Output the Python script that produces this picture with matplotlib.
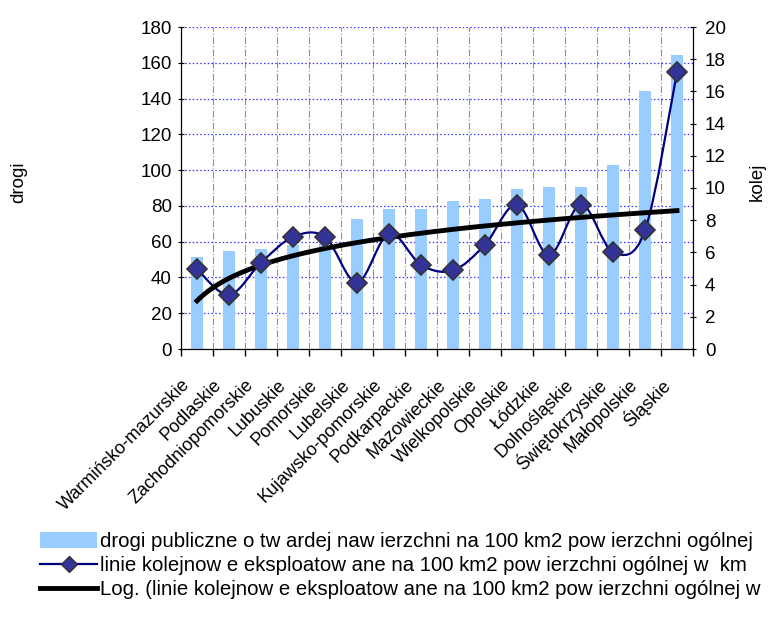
import numpy as np
import matplotlib
matplotlib.use('Agg')
import matplotlib.pyplot as plt
from matplotlib.path import Path
from matplotlib.patches import PathPatch, Patch
from matplotlib.lines import Line2D
from matplotlib.transforms import ScaledTranslation

plt.rcParams['font.family'] = ['Liberation Sans', 'DejaVu Sans']

# dane
wojewodztwa = ['Warmińsko-mazurskie', 'Podlaskie', 'Zachodniopomorskie', 'Lubuskie',
               'Pomorskie', 'Lubelskie', 'Kujawsko-pomorskie', 'Podkarpackie',
               'Mazowieckie', 'Wielkopolskie', 'Opolskie', 'Łódzkie',
               'Dolnośląskie', 'Świętokrzyskie', 'Małopolskie', 'Śląskie']
drogi = [51.2, 54.6, 55.9, 57.9, 61.0, 72.5, 78.1, 78.1,
         82.6, 83.7, 89.3, 90.5, 90.5, 102.8, 144.3, 164.5]
kolej = [4.96, 3.36, 5.36, 6.96, 6.96, 4.13, 7.17, 5.23,
         4.88, 6.48, 8.97, 5.84, 8.97, 6.02, 7.37, 17.18]

lab_drogi = 'drogi publiczne o tw ardej naw ierzchni na 100 km2 pow ierzchni ogólnej'
lab_kolej = 'linie kolejnow e eksploatow ane na 100 km2 pow ierzchni ogólnej w  km'
lab_log = 'Log. (linie kolejnow e eksploatow ane na 100 km2 pow ierzchni ogólnej w  km)'

fig = plt.figure(figsize=(7.68, 6.28), dpi=100)
ax = fig.add_axes([181/768, 1-349/628, 512/768, 322/628])

x = np.arange(len(wojewodztwa))
ax.bar(x, drogi, width=0.4, color='#99CCFF', zorder=2)
ax.set_xlim(-0.5, len(x) - 0.5)
ax.set_ylim(0, 180)
ax.set_yticks(range(0, 181, 20))
ax.yaxis.grid(True, color='#3333FF', linestyle=(0, (1.2, 1.8)), linewidth=0.9)

# granice kategorii
ax.set_xticks(np.arange(len(x) + 1) - 0.5)
ax.set_xticklabels([])
ax.xaxis.grid(True, color='#909090', linestyle=(0, (6, 2, 1, 2)), linewidth=0.8)
ax.set_xticks(x, wojewodztwa, minor=True, rotation=45, ha='right', va='center',
              rotation_mode='anchor', fontsize=13)
ax.tick_params(axis='x', which='minor', length=0, pad=24)
ax.tick_params(axis='x', which='major', length=5, direction='out', width=1)
for lbl in ax.get_xticklabels(minor=True):
    lbl.set_transform(lbl.get_transform() + ScaledTranslation(-10/100, 0, fig.dpi_scale_trans))
ax.tick_params(axis='y', direction='inout', length=5, labelsize=13.5, pad=4)
ax.set_axisbelow(True)
ax.spines['top'].set_visible(False)

ax2 = ax.twinx()
ax2.set_ylim(0, 20)
ax2.set_yticks(range(0, 21, 2))
ax2.tick_params(axis='y', direction='inout', length=5, labelsize=13.5, pad=6)
ax2.spines['top'].set_visible(False)

# wygladzona linia (Bezier)
pts = np.column_stack([x, kolej]).astype(float)
verts = [pts[0]]
codes = [Path.MOVETO]
n = len(pts)
for i in range(n - 1):
    p0 = pts[i - 1] if i > 0 else pts[i]
    p3 = pts[i + 2] if i + 2 < n else pts[i + 1]
    verts += [pts[i] + (pts[i + 1] - p0) / 6, pts[i + 1] - (p3 - pts[i]) / 6, pts[i + 1]]
    codes += [Path.CURVE4] * 3
ax2.add_patch(PathPatch(Path(verts, codes), fill=False, edgecolor='#000080', lw=1.6, zorder=3))

# trend logarytmiczny
coef = np.polyfit(np.log(x + 1), kolej, 1)
xs = np.linspace(1, len(x), 200)
ax2.plot(xs - 1, np.polyval(coef, np.log(xs)), color='black', lw=3.5, zorder=4)

ax2.plot(x, kolej, linestyle='none', marker='D', ms=10, mfc='#333399', mec='#333333',
         mew=1.2, zorder=5)

fig.text(19/768, 1-182/628, 'drogi', rotation=90, ha='center', va='center', fontsize=13.5)
fig.text(757/768, 1-182/628, 'kolej', rotation=90, ha='center', va='center', fontsize=13.5)

handles = [Patch(facecolor='#99CCFF', edgecolor='none'),
           Line2D([], [], color='#000080', lw=1.6, marker='D', ms=8, mfc='#333399', mec='#333333'),
           Line2D([], [], color='black', lw=3.5)]
fig.legend(handles, [lab_drogi, lab_kolej, lab_log], loc='upper left',
           bbox_to_anchor=(40/768, 1-532/628), frameon=False, fontsize=14.7,
           handlelength=2.8, handleheight=0.8, handletextpad=0.12, labelspacing=0.25,
           borderaxespad=0, borderpad=0)

fig.savefig('out.png', dpi=100)
